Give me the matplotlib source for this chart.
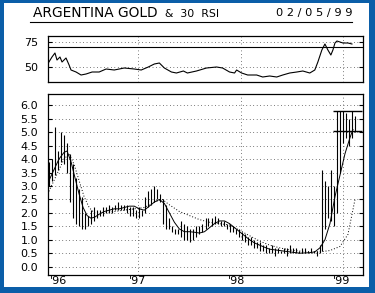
import matplotlib
matplotlib.use("Agg")
import matplotlib.pyplot as plt
from matplotlib.patches import Rectangle
from matplotlib.lines import Line2D

# price bars: date (decimal year), high, low
bar_dates = [1996.127, 1996.157, 1996.186, 1996.216, 1996.245, 1996.275, 1996.304, 1996.333,
             1996.363, 1996.392, 1996.422, 1996.451, 1996.480, 1996.510, 1996.539, 1996.569,
             1996.598, 1996.627, 1996.657, 1996.686, 1996.716, 1996.745, 1996.775, 1996.804,
             1996.833, 1996.863, 1996.892, 1996.922, 1996.951, 1996.980, 1997.010, 1997.039,
             1997.069, 1997.098, 1997.127, 1997.157, 1997.186, 1997.216, 1997.245, 1997.275,
             1997.304, 1997.333, 1997.363, 1997.392, 1997.422, 1997.451, 1997.480, 1997.510,
             1997.539, 1997.569, 1997.598, 1997.627, 1997.657, 1997.686, 1997.716, 1997.745,
             1997.775, 1997.804, 1997.833, 1997.863, 1997.892, 1997.922, 1997.951, 1997.980,
             1998.010, 1998.039, 1998.069, 1998.098, 1998.127, 1998.157, 1998.186, 1998.216,
             1998.245, 1998.275, 1998.304, 1998.333, 1998.363, 1998.392, 1998.422, 1998.451,
             1998.480, 1998.510, 1998.539, 1998.569, 1998.598, 1998.627, 1998.657, 1998.686,
             1998.716, 1998.745, 1998.775, 1998.794, 1998.824, 1998.853, 1998.882, 1998.912,
             1998.941, 1998.971, 1999.000, 1999.029, 1999.059, 1999.088, 1999.118]
bar_high = [3.9, 4.0, 5.2, 4.3, 5.0, 4.9, 4.6, 4.2, 3.8, 3.3, 2.9, 2.6, 2.0, 1.9, 2.1, 2.2,
            2.1, 2.1, 2.2, 2.2, 2.3, 2.2, 2.3, 2.4, 2.3, 2.3, 2.3, 2.2, 2.2, 2.1, 2.2, 2.1,
            2.6, 2.8, 2.9, 3.0, 2.9, 2.7, 2.5, 2.3, 1.8, 1.5, 1.4, 1.4, 1.7, 1.6, 1.5, 1.4,
            1.4, 1.5, 1.5, 1.6, 1.8, 1.8, 1.8, 1.9, 1.8, 1.7, 1.7, 1.6, 1.6, 1.5, 1.4, 1.4,
            1.3, 1.2, 1.1, 1.1, 1.0, 0.9, 0.9, 0.8, 0.8, 0.7, 0.8, 0.7, 0.7, 0.6, 0.7, 0.7,
            0.8, 0.7, 0.7, 0.6, 0.7, 0.7, 0.6, 0.7, 0.6, 0.6, 0.8, 3.6, 3.2, 3.0, 3.6, 3.0,
            5.8, 5.8, 5.8, 5.7, 5.5, 5.8, 5.6]
bar_low = [3.0, 3.2, 3.4, 3.6, 3.9, 3.8, 3.5, 2.4, 1.8, 1.6, 1.5, 1.4, 1.4, 1.5, 1.6, 1.7,
           1.8, 1.9, 1.9, 2.0, 2.0, 2.0, 2.1, 2.1, 2.1, 2.1, 2.0, 1.9, 1.9, 1.8, 1.8, 1.9,
           2.0, 2.2, 2.3, 2.4, 2.5, 2.4, 1.6, 1.4, 1.4, 1.3, 1.2, 1.2, 1.1, 1.0, 1.0, 0.9,
           1.0, 1.1, 1.2, 1.3, 1.4, 1.5, 1.5, 1.6, 1.6, 1.5, 1.5, 1.4, 1.3, 1.3, 1.2, 1.1,
           1.0, 0.9, 0.8, 0.8, 0.7, 0.7, 0.6, 0.6, 0.5, 0.5, 0.5, 0.4, 0.5, 0.5, 0.5, 0.4,
           0.5, 0.5, 0.5, 0.5, 0.5, 0.5, 0.5, 0.5, 0.5, 0.4, 0.5, 0.6, 1.4, 1.8, 1.7, 1.5,
           2.0, 3.5, 4.6, 4.8, 4.5, 4.8, 5.0]

# short moving average (solid)
ma_dates = [1996.127, 1996.176, 1996.225, 1996.275, 1996.304, 1996.343, 1996.382, 1996.422,
            1996.461, 1996.500, 1996.539, 1996.578, 1996.618, 1996.667, 1996.716, 1996.765,
            1996.814, 1996.863, 1996.912, 1996.961, 1997.010, 1997.059, 1997.108, 1997.157,
            1997.206, 1997.255, 1997.304, 1997.353, 1997.402, 1997.451, 1997.500, 1997.549,
            1997.598, 1997.647, 1997.696, 1997.745, 1997.794, 1997.843, 1997.892, 1997.941,
            1997.990, 1998.039, 1998.088, 1998.137, 1998.186, 1998.235, 1998.284, 1998.382,
            1998.480, 1998.578, 1998.676, 1998.725, 1998.775, 1998.824, 1998.873, 1998.922,
            1998.971, 1999.020, 1999.069, 1999.098]
ma_short = [3.2, 3.6, 4.0, 4.25, 4.3, 3.9, 3.3, 2.7, 2.2, 1.9, 1.8, 1.85, 1.95, 2.05, 2.1, 2.15,
            2.15, 2.2, 2.25, 2.25, 2.15, 2.1, 2.25, 2.4, 2.5, 2.35, 2.0, 1.65, 1.4, 1.3, 1.3, 1.28,
            1.25, 1.3, 1.45, 1.6, 1.7, 1.7, 1.6, 1.45, 1.3, 1.15, 1.0, 0.88, 0.8, 0.72, 0.65, 0.6,
            0.55, 0.5, 0.52, 0.55, 0.7, 1.0, 1.6, 2.6, 3.4, 4.2, 4.8, 5.1]

# longer moving average (dotted)
lma_dates = [1996.127, 1996.176, 1996.225, 1996.275, 1996.324, 1996.373, 1996.422, 1996.471,
             1996.520, 1996.569, 1996.618, 1996.667, 1996.765, 1996.863, 1996.961, 1997.059,
             1997.157, 1997.235, 1997.304, 1997.402, 1997.500, 1997.598, 1997.696, 1997.794,
             1997.892, 1997.990, 1998.088, 1998.186, 1998.284, 1998.382, 1998.480, 1998.578,
             1998.676, 1998.775, 1998.873, 1998.971, 1999.049, 1999.118]
ma_long = [2.8, 3.2, 3.6, 4.0, 4.2, 3.8, 3.2, 2.6, 2.2, 2.0, 2.0, 2.0, 2.05, 2.1, 2.15, 2.2,
           2.4, 2.5, 2.3, 2.05, 1.9, 1.75, 1.65, 1.6, 1.55, 1.35, 1.15, 0.95, 0.8, 0.7, 0.62,
           0.58, 0.55, 0.55, 0.6, 0.75, 1.2, 2.5]

# RSI
rsi_dates = [1996.127, 1996.157, 1996.186, 1996.206, 1996.235, 1996.255, 1996.294, 1996.324,
             1996.343, 1996.392, 1996.441, 1996.490, 1996.549, 1996.618, 1996.686, 1996.765,
             1996.863, 1996.961, 1997.029, 1997.098, 1997.157, 1997.206, 1997.255, 1997.324,
             1997.373, 1997.441, 1997.480, 1997.569, 1997.667, 1997.765, 1997.824, 1997.892,
             1997.941, 1997.961, 1998.010, 1998.069, 1998.157, 1998.216, 1998.284, 1998.353,
             1998.412, 1998.480, 1998.549, 1998.608, 1998.676, 1998.725, 1998.755, 1998.794,
             1998.824, 1998.853, 1998.882, 1998.902, 1998.922, 1998.941, 1998.971, 1999.000,
             1999.049, 1999.088]
rsi = [55, 60, 64, 57, 60, 55, 59, 52, 47, 45, 42, 43, 45, 45, 48, 47, 49, 48, 47, 50, 53, 54,
       49, 45, 44, 46, 44, 46, 49, 50, 49, 45, 44, 47, 44, 42, 42, 40, 41, 40, 42, 44, 45, 46,
       44, 47, 55, 67, 73, 67, 62, 67, 74, 76, 75, 74, 74, 73]

rsi_line = 70
box_top, box_bottom = 5.8, 5.05
box_start, box_end = 1998.90, 1999.19

years = [1997, 1998, 1999]
xlabel_pos = [1996.225, 1996.99, 1997.96, 1998.99]
xlabels = ["'96", "'97", "'98", "'99"]

blue = "#0b5ea8"
dots = (0, (1, 4))

fig = plt.figure(figsize=(3.75, 2.93), dpi=100)
fig.patch.set_facecolor(blue)
fig.patches.append(Rectangle((4 / 375, 1 - 287 / 293), 365 / 375, 284 / 293,
                             transform=fig.transFigure, facecolor="white",
                             edgecolor="none", zorder=-10))

# title
fig.text(33 / 375, 1 - 13 / 293, "ARGENTINA GOLD", fontsize=9.9, va="center", ha="left")
fig.text(165 / 375, 1 - 14 / 293, "&  30  RSI", fontsize=7.8, va="center", ha="left")
fig.text(352 / 375, 1 - 13 / 293, "0 2 / 0 5 / 9 9", fontsize=8.2, va="center", ha="right")
fig.lines.append(Line2D([30 / 375, 352 / 375], [1 - 22 / 293, 1 - 22 / 293],
                        transform=fig.transFigure, color="black", lw=0.8))

xlim = (1996.118, 1999.196)

ax1 = fig.add_axes([48 / 375, 1 - 82 / 293, 315 / 375, 46 / 293])
ax1.plot(rsi_dates, rsi, color="black", lw=0.8)
ax1.axhline(rsi_line, color="black", lw=0.8)
for y in [50, 75]:
    ax1.axhline(y, color="black", lw=0.5, ls=dots)
for yr in years:
    ax1.axvline(yr, color="black", lw=0.5, ls=dots)
ax1.set_xlim(xlim)
ax1.set_ylim(35, 81)
ax1.set_yticks([50, 75])
ax1.set_xticks([])

ax2 = fig.add_axes([48 / 375, 1 - 275 / 293, 315 / 375, 181 / 293])
ax2.vlines(bar_dates, bar_low, bar_high, color="black", lw=0.8)
ax2.plot(ma_dates, ma_short, color="black", lw=0.7)
ax2.plot(lma_dates, ma_long, color="black", lw=0.7, ls=(0, (1, 2)))
ax2.hlines([box_top, box_bottom], box_start, box_end, color="black", lw=1.0)
for y in [0.5 * i for i in range(13)]:
    ax2.axhline(y, color="black", lw=0.5, ls=dots)
for yr in years:
    ax2.axvline(yr, color="black", lw=0.5, ls=dots)
ax2.set_xlim(xlim)
ax2.set_ylim(-0.31, 6.42)
yt = [0.5 * i for i in range(13)]
ax2.set_yticks(yt)
ax2.set_yticklabels([f"{v:.1f}" for v in yt])
ax2.set_xticks(xlabel_pos)
ax2.set_xticklabels(xlabels)

for ax in (ax1, ax2):
    for s in ax.spines.values():
        s.set_linewidth(0.9)
    ax.tick_params(axis="y", direction="in", length=3, width=0.8, right=True,
                   labelsize=8, pad=7)
    ax.tick_params(axis="x", length=0, labelsize=8, pad=1)

fig.savefig("out.png", dpi=100, facecolor=blue)
